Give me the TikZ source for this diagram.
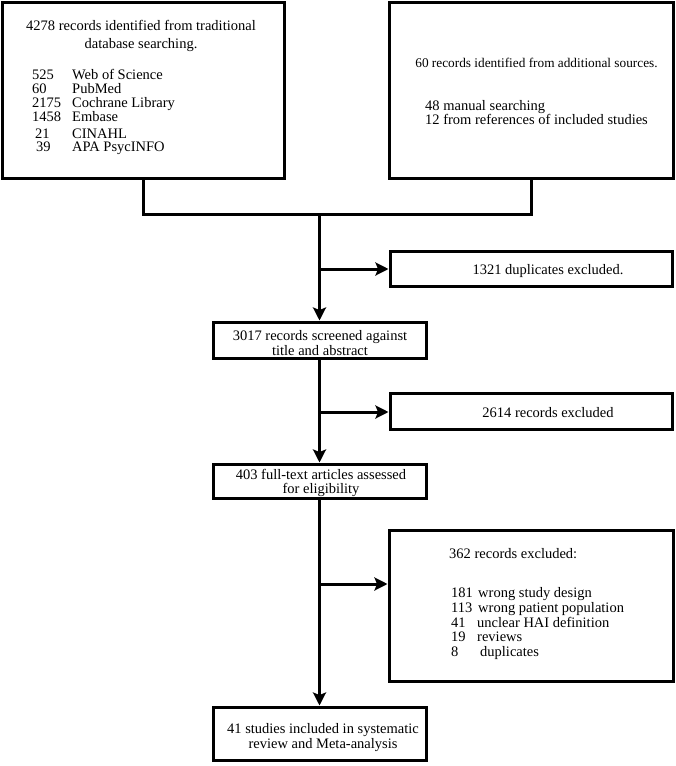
\documentclass[tikz,border=0pt]{standalone}
\usepackage{fontspec}
\setmainfont{Liberation Serif}
\usetikzlibrary{arrows.meta}
\begin{document}
\begin{tikzpicture}[x=1pt,y=-1pt,
  box/.style={draw,line width=3pt,rectangle,inner sep=0pt},
  txt/.style={inner sep=0pt,font=\fontsize{14.5}{14}\selectfont},
  smalltxt/.style={inner sep=0pt,font=\fontsize{13.3}{14}\selectfont},
  conn/.style={line width=3pt},
  arr/.style={conn,-{Stealth[length=13pt,width=13pt,inset=2.5pt]}}]
\useasboundingbox (0,0) rectangle (675,766);
% boxes
\node[box,minimum width=282pt,minimum height=176pt] (A) at (143,90) {};
\node[box,minimum width=284pt,minimum height=176pt] (B) at (531,90) {};
\node[box,minimum width=282pt,minimum height=35pt] (D1) at (531,268.5) {};
\node[box,minimum width=213pt,minimum height=36pt] (S) at (319.5,340) {};
\node[box,minimum width=282pt,minimum height=36pt] (D2) at (531,411.5) {};
\node[box,minimum width=213pt,minimum height=34pt] (F) at (319.5,481) {};
\node[box,minimum width=284pt,minimum height=151pt] (D3) at (531,605.5) {};
\node[box,minimum width=213pt,minimum height=53pt] (I) at (319.5,733.5) {};
% connectors
\coordinate (J) at (319.5,214);
\coordinate (k1) at (319.5,269);
\coordinate (k2) at (319.5,412);
\coordinate (k3) at (319.5,584);
\draw[conn] (A.south) |- (J) -| (B.south);
\draw[arr] (J) -- (S.north);
\draw[arr] (k1) -- (k1 -| D1.west);
\draw[arr] (S.south) -- (F.north);
\draw[arr] (k2) -- (k2 -| D2.west);
\draw[arr] (F.south) -- (I.north);
\draw[arr] (k3) -- (k3 -| D3.west);
% left box text
\node[txt,anchor=base] (a1) at (141,30) {4278 records identified from traditional};
\node[txt,anchor=base] (a2) at (141,48) {database searching.};
\node[txt,anchor=base west] (n1) at (32,79) {525};
\node[txt,anchor=base west] (m1) at (72,79) {Web of Science};
\node[txt,anchor=base west] (n2) at (32,93) {60};
\node[txt,anchor=base west] (m2) at (72,93) {PubMed};
\node[txt,anchor=base west] (n3) at (32,107) {2175};
\node[txt,anchor=base west] (m3) at (72,107) {Cochrane Library};
\node[txt,anchor=base west] (n4) at (32,121) {1458};
\node[txt,anchor=base west] (m4) at (72,121) {Embase};
\node[txt,anchor=base west] (n5) at (35,138) {21};
\node[txt,anchor=base west] (m5) at (72,138) {CINAHL};
\node[txt,anchor=base west] (n6) at (36,151) {39};
\node[txt,anchor=base west] (m6) at (72,151) {APA PsycINFO};
% right box text
\node[smalltxt,anchor=base] (b1) at (536.5,67) {60 records identified from additional sources.};
\node[inner sep=0pt,font=\fontsize{14.5}{12.5}\selectfont,align=left,anchor=base west] (b2) at (425,124.5)
  {48 manual searching\\12 from references of included studies};
% flow texts
\node[txt,anchor=base] (d1t) at (548,274) {1321 duplicates excluded.};
\node[txt,anchor=base] (s1) at (320,340) {3017 records screened against};
\node[txt,anchor=base] (s2) at (320,355) {title and abstract};
\node[txt,anchor=base] (d2t) at (548,417) {2614 records excluded};
\node[txt,anchor=base] (f1) at (321,479) {403 full-text articles assessed};
\node[txt,anchor=base] (f2) at (321,493) {for eligibility};
\node[txt,anchor=base west] (e0) at (449,558) {362 records excluded:};
\node[txt,anchor=base west] (e1) at (451,597) {181};
\node[txt,anchor=base west] (e1t) at (478,597) {wrong study design};
\node[txt,anchor=base west] (e2) at (451,612) {113};
\node[txt,anchor=base west] (e2t) at (478,612) {wrong patient population};
\node[txt,anchor=base west] (e3) at (451,627) {41};
\node[txt,anchor=base west] (e3t) at (477,627) {unclear HAI definition};
\node[txt,anchor=base west] (e4) at (451,641) {19};
\node[txt,anchor=base west] (e4t) at (477,641) {reviews};
\node[txt,anchor=base west] (e5) at (451,656) {8};
\node[txt,anchor=base west] (e5t) at (480,656) {duplicates};
\node[txt,anchor=base] (i1) at (323,733) {41 studies included in systematic};
\node[txt,anchor=base] (i2) at (323,748) {review and Meta-analysis};
\end{tikzpicture}
\end{document}
